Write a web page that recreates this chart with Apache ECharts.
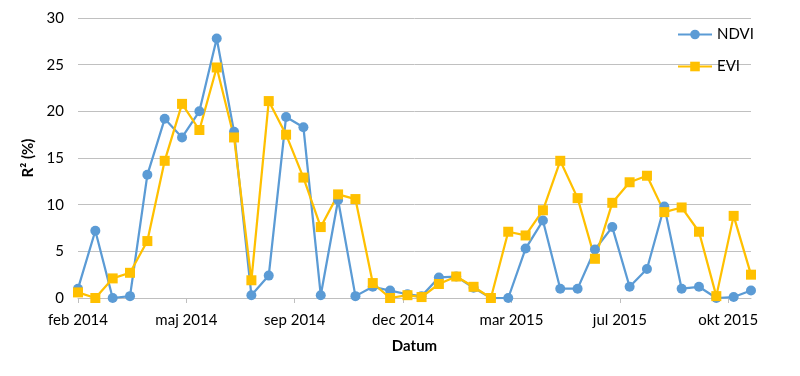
<!DOCTYPE html>
<html>
<head>
<meta charset="utf-8">
<script src="https://cdn.jsdelivr.net/npm/echarts@6/dist/echarts.min.js"></script>
<style>
  html, body { margin: 0; padding: 0; background: #fff; }
  #main { width: 800px; height: 376px; }
</style>
</head>
<body>
<div id="main"></div>
<script>
// 16-dagars kompositer (MODIS), datum
var dates = [
  '2014-02-18', '2014-03-06', '2014-03-22', '2014-04-07', '2014-04-23', '2014-05-09', '2014-05-25',
  '2014-06-10', '2014-06-26', '2014-07-12', '2014-07-28', '2014-08-13', '2014-08-29', '2014-09-14',
  '2014-09-30', '2014-10-16', '2014-11-01', '2014-11-17', '2014-12-03', '2014-12-19',
  '2015-01-01', '2015-01-17', '2015-02-02', '2015-02-18', '2015-03-06', '2015-03-22', '2015-04-07',
  '2015-04-23', '2015-05-09', '2015-05-25', '2015-06-10', '2015-06-26', '2015-07-12', '2015-07-28',
  '2015-08-13', '2015-08-29', '2015-09-14', '2015-09-30', '2015-10-16', '2015-11-01'
];
var ndvi = [
  1.0, 7.2, 0.0, 0.2, 13.2, 19.2, 17.2, 20.0, 27.8, 17.8,
  0.3, 2.4, 19.4, 18.3, 0.3, 10.5, 0.2, 1.2, 0.8, 0.4,
  0.2, 2.2, 2.3, 1.1, 0.0, 0.0, 5.3, 8.3, 1.0, 1.0,
  5.2, 7.6, 1.2, 3.1, 9.8, 1.0, 1.2, 0.0, 0.1, 0.8
];
var evi = [
  0.6, 0.0, 2.1, 2.7, 6.1, 14.7, 20.8, 18.0, 24.7, 17.2,
  1.9, 21.1, 17.5, 12.9, 7.6, 11.1, 10.6, 1.6, 0.0, 0.3,
  0.1, 1.5, 2.3, 1.2, 0.0, 7.1, 6.7, 9.4, 14.7, 10.7,
  4.2, 10.2, 12.4, 13.1, 9.2, 9.7, 7.1, 0.2, 8.8, 2.5
];
var xTickLabels = ['feb 2014', 'maj 2014', 'sep 2014', 'dec 2014', 'mar 2015', 'jul 2015', 'okt 2015'];
var yTicks = [0, 5, 10, 15, 20, 25, 30];

var DAY = 86400000;
var start = Date.parse(dates[0]);
function dayOf(s) { return Math.round((Date.parse(s) - start) / DAY); }
var tickDays = xTickLabels.map(function (l, i) { return i * 100; });

var myChart = echarts.init(document.getElementById('main'));
myChart.setOption({
  animation: false,
  textStyle: { fontFamily: 'Lato' },
  grid: { left: 78, right: 49, top: 18, bottom: 78 },
  legend: {
    orient: 'vertical',
    left: 672,
    top: 22,
    itemWidth: 34,
    itemHeight: 12,
    itemGap: 17,
    textStyle: { fontSize: 15, color: '#000', fontFamily: 'Lato' },
    data: ['NDVI', 'EVI']
  },
  xAxis: {
    type: 'value',
    min: 0,
    max: dayOf(dates[dates.length - 1]),
    interval: 100,
    name: 'Datum',
    nameLocation: 'middle',
    nameGap: 41,
    nameTextStyle: { fontSize: 15, fontWeight: 'bold', color: '#000' },
    splitLine: { show: false },
    axisLine: { show: true, lineStyle: { color: '#bfbfbf', width: 1 } },
    axisTick: { show: true, length: 5, customValues: tickDays, lineStyle: { color: '#bfbfbf' } },
    axisLabel: {
      customValues: tickDays,
      fontSize: 15,
      color: '#000',
      margin: 15,
      formatter: function (v) { return xTickLabels[Math.round(v / 100)] || ''; }
    }
  },
  yAxis: {
    type: 'value',
    min: yTicks[0],
    max: yTicks[yTicks.length - 1],
    interval: 5,
    name: 'R² (%)',
    nameLocation: 'middle',
    nameGap: 36,
    nameTextStyle: { fontSize: 15, fontWeight: 'bold', color: '#000' },
    axisLine: { show: false },
    axisTick: { show: false },
    axisLabel: { fontSize: 15, color: '#000', margin: 14 },
    splitLine: { lineStyle: { color: '#c0c0c0', width: 1 } }
  },
  series: [{
    name: 'NDVI',
    type: 'line',
    data: dates.map(function (d, i) { return [dayOf(d), ndvi[i]]; }),
    symbol: 'circle',
    symbolSize: 10,
    lineStyle: { color: '#5b9bd5', width: 2.25 },
    itemStyle: { color: '#5b9bd5' }
  }, {
    name: 'EVI',
    type: 'line',
    data: dates.map(function (d, i) { return [dayOf(d), evi[i]]; }),
    symbol: 'rect',
    symbolSize: 10,
    lineStyle: { color: '#ffc000', width: 2.25 },
    itemStyle: { color: '#ffc000' }
  }]
});
</script>
</body>
</html>
